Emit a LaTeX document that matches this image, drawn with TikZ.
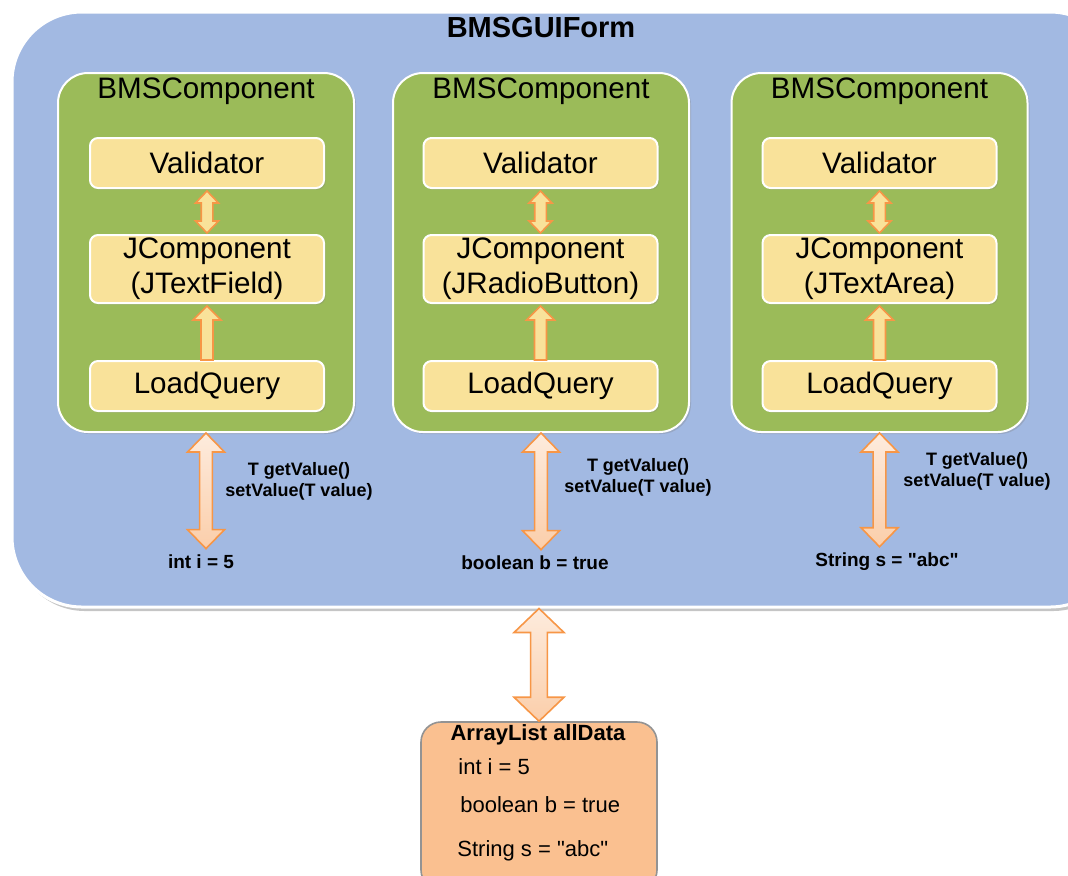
\documentclass[tikz,border=0pt]{standalone}
\usepackage{fontspec}
\setmainfont{Liberation Sans}[Ligatures=TeXOff]
\usetikzlibrary{positioning, calc, shadows}
\definecolor{formblue}{RGB}{162,185,226}
\definecolor{compgreen}{RGB}{155,187,89}
\definecolor{partyellow}{RGB}{249,226,154}
\definecolor{arroworange}{RGB}{247,150,70}
\definecolor{arrowfill}{RGB}{251,206,170}
\definecolor{listorange}{RGB}{250,192,144}

% block arrow with two heads: top, bottom, shaft half width, head half width, head length
\newcommand{\dblarrow}[6][blockarrow]{%
  \draw[#1] let \p1=(#2), \p2=(#3) in
    (\x1,\y1) -- (\x1+#5,\y1-#6) -- (\x1+#4,\y1-#6) -- (\x1+#4,\y2+#6)
    -- (\x1+#5,\y2+#6) -- (\x1,\y2) -- (\x1-#5,\y2+#6) -- (\x1-#4,\y2+#6)
    -- (\x1-#4,\y1-#6) -- (\x1-#5,\y1-#6) -- cycle;}
% block arrow with one head on top
\newcommand{\headarrow}[6][smallarrow]{%
  \draw[#1] let \p1=(#2), \p2=(#3) in
    (\x1,\y1) -- (\x1+#5,\y1-#6) -- (\x1+#4,\y1-#6) -- (\x1+#4,\y2)
    -- (\x1-#4,\y2) -- (\x1-#4,\y1-#6) -- (\x1-#5,\y1-#6) -- cycle;}

\begin{document}
\begin{tikzpicture}[
  x=0.5pt, y=-0.5pt,
  every node/.style={font=\fontsize{14.8}{17.5}\selectfont, inner sep=0pt},
  form/.style={draw=white, line width=1.5pt, fill=formblue, rounded corners=35pt, minimum width=554pt, minimum height=297.5pt, drop shadow={shadow xshift=1.5pt, shadow yshift=-2pt, opacity=0.45}},
  comp/.style={draw=white, line width=1pt, fill=compgreen, rounded corners=15pt, minimum width=148pt, minimum height=179.5pt, drop shadow={shadow xshift=1pt, shadow yshift=-1pt, opacity=0.3}},
  part/.style={draw=white, line width=1pt, fill=partyellow, rounded corners=4pt, minimum width=117pt, minimum height=25pt, align=center, drop shadow={shadow xshift=0.8pt, shadow yshift=-0.8pt, opacity=0.3}},
  method/.style={font=\bfseries\fontsize{9}{10.5}\selectfont, align=center},
  value/.style={font=\bfseries\fontsize{9.5}{11}\selectfont, inner sep=1pt},
  blockarrow/.style={draw=arroworange, line width=0.8pt, top color=arrowfill!40!white, bottom color=arrowfill, line join=miter},
  smallarrow/.style={draw=arroworange, line width=0.8pt, fill=partyellow, line join=miter},
  listbox/.style={draw=gray!85, line width=0.8pt, fill=listorange, rounded corners=10pt, minimum width=118pt, minimum height=84pt},
  entry/.style={font=\fontsize{11}{13}\selectfont, anchor=west}
]
  \useasboundingbox (0,0) rectangle (1068,875);
  \fill[white] (0,0) rectangle (1068,875);
  \clip (0,0) rectangle (1068,875);

  % Form
  \node[form] (form) at (566,309.5) {};
  \node[font=\bfseries\fontsize{14.5}{17}\selectfont] (formtitle) at (541,28) {BMSGUIForm};

  % Componenti
  \node[comp] (c1) at (206,252.5) {};
  \node[comp] (c2) at (541,252.5) {};
  \node[comp] (c3) at (879.5,252.5) {};
  \node (c1title) at (206,91) {BMSComponent};
  \node (c2title) at (541,91) {BMSComponent};
  \node (c3title) at (879.5,91) {BMSComponent};

  \node[part] (val1) at (207,163) {Validator};
  \node[part, minimum height=34pt] (jc1) at (207,269) {JComponent\\(JTextField)};
  \node[part] (lq1) at (207,386) {LoadQuery};

  \node[part] (val2) at (540.5,163) {Validator};
  \node[part, minimum height=34pt] (jc2) at (540.5,269) {JComponent\\(JRadioButton)};
  \node[part] (lq2) at (540.5,386) {LoadQuery};

  \node[part] (val3) at (879.5,163) {Validator};
  \node[part, minimum height=34pt] (jc3) at (879.5,269) {JComponent\\(JTextArea)};
  \node[part] (lq3) at (879.5,386) {LoadQuery};

  % Valori e metodi
  \node[value] (v1) at (201,562) {int i = 5};
  \node[value] (v2) at (535,563) {boolean b = true};
  \node[value] (v3) at (887,562) {String s = "abc"};
  \node[method] (m1) at (299,481.5) {T getValue()\\setValue(T value)};
  \node[method] (m2) at (638,477.5) {T getValue()\\setValue(T value)};
  \node[method] (m3) at (977,471.5) {T getValue()\\setValue(T value)};

  % Lista
  \node[listbox] (list) at (539,806) {};
  \node[font=\bfseries\fontsize{11}{13}\selectfont] (listtitle) at (538,735) {ArrayList allData};
  \node[entry] (e1) at (458,767) {int i = 5};
  \node[entry] (e2) at (460,805) {boolean b = true};
  \node[entry] (e3) at (457,851) {String s = "abc"};

  % Frecce interne
  \dblarrow[smallarrow]{[yshift=-1pt]val1.south}{[yshift=0.5pt]jc1.north}{2.9pt}{5.75pt}{6pt}
  \dblarrow[smallarrow]{[yshift=-1pt]val2.south}{[yshift=0.5pt]jc2.north}{2.9pt}{5.75pt}{6pt}
  \dblarrow[smallarrow]{[yshift=-1pt]val3.south}{[yshift=0.5pt]jc3.north}{2.9pt}{5.75pt}{6pt}
  \headarrow{[yshift=-1pt]jc1.south}{lq1.north}{3pt}{7pt}{7pt}
  \headarrow{[yshift=-1pt]jc2.south}{lq2.north}{3pt}{7pt}{7pt}
  \headarrow{[yshift=-1pt]jc3.south}{lq3.north}{3pt}{7pt}{7pt}

  % Frecce verso i valori
  \dblarrow{c1.south}{[yshift=2pt]v1.north}{3.2pt}{9.25pt}{9.5pt}
  \dblarrow{c2.south}{[yshift=2pt]v2.north}{3.2pt}{9.25pt}{9.5pt}
  \dblarrow{c3.south}{[yshift=2pt]v3.north}{3.2pt}{9.25pt}{9.5pt}

  % Freccia verso la lista
  \dblarrow{form.south -| list.north}{list.north}{4.2pt}{12.5pt}{12pt}
\end{tikzpicture}
\end{document}
